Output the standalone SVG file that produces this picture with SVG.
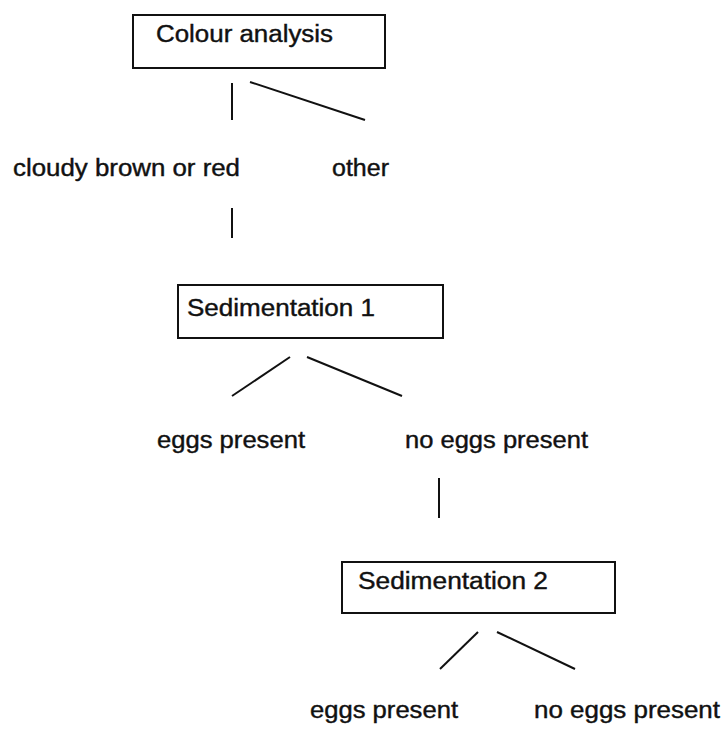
<svg xmlns="http://www.w3.org/2000/svg" width="723" height="729" viewBox="0 0 723 729">
  <style>
    .box { fill: #ffffff; stroke: #111111; stroke-width: 2; }
    .lbl { font-family: "Liberation Sans", Arial, sans-serif; font-size: 23px; fill: #111111; stroke: #111111; stroke-width: 0.4; }
    .edge { stroke: #111111; stroke-width: 2; fill: none; stroke-linecap: butt; }
  </style>
  <rect width="723" height="729" fill="#ffffff"/>

  <!-- decision nodes -->
  <g id="colour-analysis">
    <rect class="box" x="133" y="15" width="252" height="53"/>
    <text class="lbl" x="156" y="42" textLength="177" lengthAdjust="spacingAndGlyphs">Colour analysis</text>
  </g>
  <g id="cloudy">
    <text class="lbl" x="13" y="176" textLength="227" lengthAdjust="spacingAndGlyphs">cloudy brown or red</text>
  </g>
  <g id="other">
    <text class="lbl" x="332" y="176" textLength="57" lengthAdjust="spacingAndGlyphs">other</text>
  </g>
  <g id="sedimentation-1">
    <rect class="box" x="178" y="285" width="265" height="53"/>
    <text class="lbl" x="187" y="316" textLength="188" lengthAdjust="spacingAndGlyphs">Sedimentation 1</text>
  </g>
  <g id="eggs-1">
    <text class="lbl" x="157" y="448" textLength="148" lengthAdjust="spacingAndGlyphs">eggs present</text>
  </g>
  <g id="no-eggs-1">
    <text class="lbl" x="405" y="448" textLength="183" lengthAdjust="spacingAndGlyphs">no eggs present</text>
  </g>
  <g id="sedimentation-2">
    <rect class="box" x="342" y="562" width="273" height="51"/>
    <text class="lbl" x="358" y="589" textLength="190" lengthAdjust="spacingAndGlyphs">Sedimentation 2</text>
  </g>
  <g id="eggs-2">
    <text class="lbl" x="310" y="718" textLength="148" lengthAdjust="spacingAndGlyphs">eggs present</text>
  </g>
  <g id="no-eggs-2">
    <text class="lbl" x="534" y="718" textLength="186" lengthAdjust="spacingAndGlyphs">no eggs present</text>
  </g>

  <!-- connectors -->
  <g id="connectors">
    <line class="edge" x1="232" y1="83" x2="232" y2="120"/>
    <line class="edge" x1="250" y1="82" x2="365" y2="120"/>
    <line class="edge" x1="232" y1="208" x2="232" y2="238"/>
    <line class="edge" x1="290" y1="357" x2="232" y2="396"/>
    <line class="edge" x1="307" y1="357" x2="402" y2="396"/>
    <line class="edge" x1="439" y1="478" x2="439" y2="518"/>
    <line class="edge" x1="478" y1="632" x2="440" y2="669"/>
    <line class="edge" x1="497" y1="632" x2="575" y2="669"/>
  </g>
</svg>
